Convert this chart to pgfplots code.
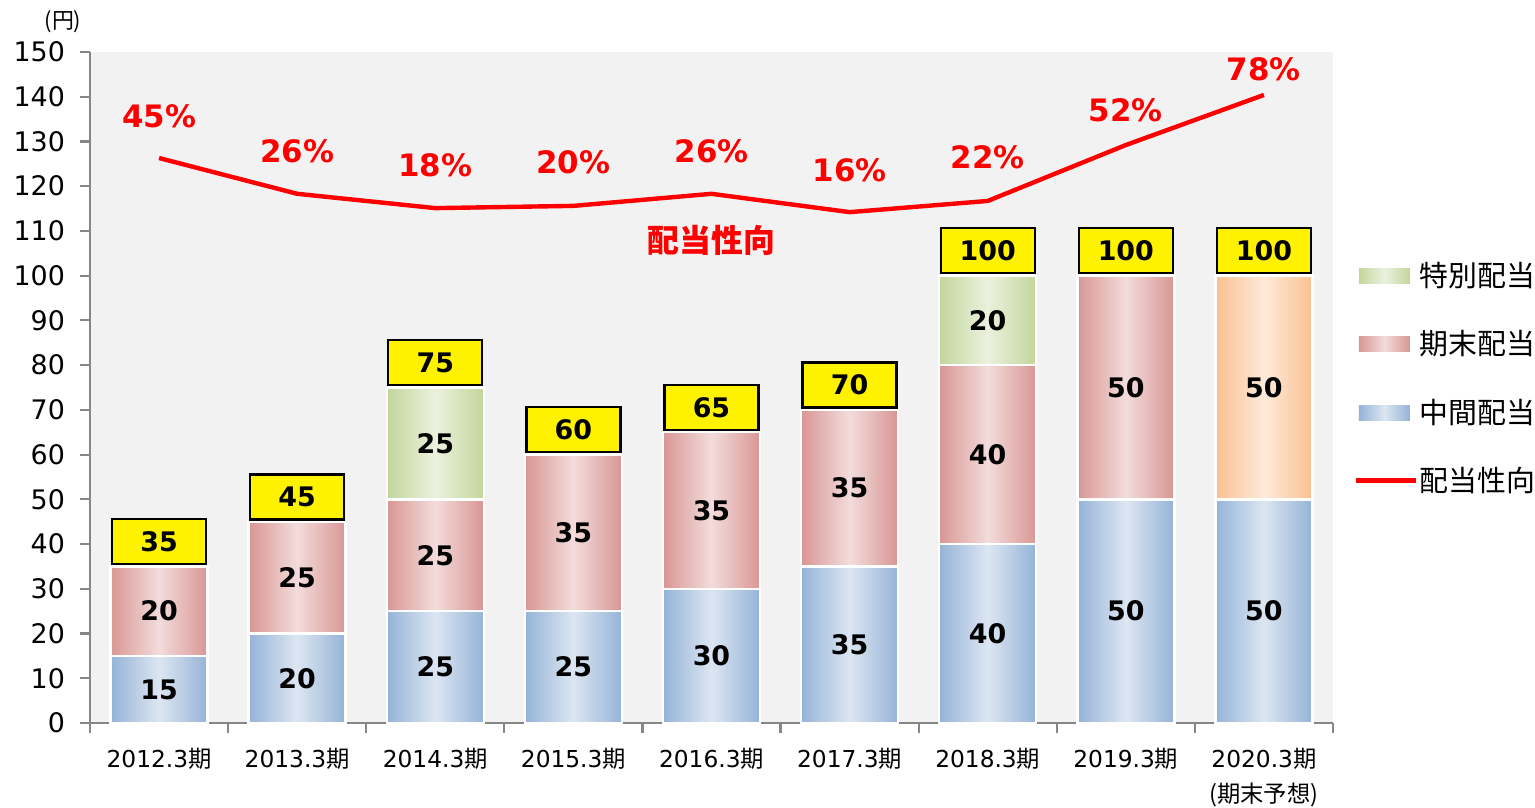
\documentclass[border=0pt]{standalone}
\usepackage{fontspec}
\setmainfont{DejaVu Sans}
\newfontfamily\jp{Noto Sans CJK JP}
\usepackage{pgfplots}
\pgfplotsset{compat=1.18}
\definecolor{blueE}{HTML}{95B3D7}
\definecolor{blueC}{HTML}{DCE6F2}
\definecolor{pinkE}{HTML}{D99694}
\definecolor{pinkC}{HTML}{F2DCDB}
\definecolor{greenE}{HTML}{C3D69B}
\definecolor{greenC}{HTML}{EBF1DE}
\definecolor{orangeE}{HTML}{FAC090}
\definecolor{orangeC}{HTML}{FDEADA}
\definecolor{plotbg}{HTML}{F2F2F2}
\definecolor{axisgray}{HTML}{868686}
\definecolor{lblred}{HTML}{FF0000}
\pgfplotsset{
  gbar/.style={ybar, bar shift=0pt, draw=white, line width=1.2bp, forget plot},
  blueS/.style={gbar, left color=blueE, right color=blueE, middle color=blueC},
  pinkS/.style={gbar, left color=pinkE, right color=pinkE, middle color=pinkC},
  greenS/.style={gbar, left color=greenE, right color=greenE, middle color=greenC},
  orangeS/.style={gbar, left color=orangeE, right color=orangeE, middle color=orangeC},
}
\begin{document}
\begin{tikzpicture}
\useasboundingbox (-45bp,-42.5bp) rectangle (722.5bp,361.5bp);
\begin{axis}[
  at={(0,0)}, anchor=south west,
  scale only axis, width=621.5bp, height=335.5bp,
  xmin=-0.5, xmax=8.5, ymin=0, ymax=150,
  bar width=48.5bp,
  axis background/.style={fill=plotbg},
  axis lines=left, axis line style={-, draw=axisgray, line width=1.3bp},
  every tick/.style={draw=axisgray, line width=1.1bp},
  tick align=outside, major tick length=5bp,
  ytick={0,10,...,150},
  yticklabel style={font=\fontsize{13.5}{15}\selectfont, text=black, xshift=-4bp},
  xtick={-0.5,0.5,1.5,2.5,3.5,4.5,5.5,6.5,7.5,8.5}, xticklabels={},
  extra x ticks={0,1,2,3,4,5,6,7,8},
  extra x tick labels={2012.3{\jp 期},2013.3{\jp 期},2014.3{\jp 期},2015.3{\jp 期},2016.3{\jp 期},2017.3{\jp 期},2018.3{\jp 期},2019.3{\jp 期},{2020.3{\jp 期}\\{\jp (期末予想)}}},
  extra x tick style={major tick length=0pt, xticklabel style={font=\fontsize{11.7}{17.5}\selectfont, align=center, anchor=north, yshift=-9bp, text=black}},
  /pgf/number format/assume math mode=true,
  legend style={at={(1.0161,0.6885)}, anchor=north west, draw=none, fill=none, font=\jp\fontsize{14.5}{16}\selectfont, row sep=19.5bp, inner sep=0pt,
    nodes={inner sep=0.5bp}, column sep=0pt},
  legend cell align=left,
  clip=false,
]
% legend images
\addlegendimage{legend image code/.code={\path[draw=none] (0bp,0bp) -- (30bp,0bp);\shade[draw=none,left color=greenE,right color=greenE,middle color=greenC] (1.5bp,-3.75bp) rectangle (27bp,3.75bp);}}
\addlegendentry{特別配当}
\addlegendimage{legend image code/.code={\path[draw=none] (0bp,0bp) -- (30bp,0bp);\shade[draw=none,left color=pinkE,right color=pinkE,middle color=pinkC] (1.5bp,-3.75bp) rectangle (27bp,3.75bp);}}
\addlegendentry{期末配当}
\addlegendimage{legend image code/.code={\path[draw=none] (0bp,0bp) -- (30bp,0bp);\shade[draw=none,left color=blueE,right color=blueE,middle color=blueC] (1.5bp,-3.75bp) rectangle (27bp,3.75bp);}}
\addlegendentry{中間配当}
\addlegendimage{legend image code/.code={\draw[lblred, line width=2.5bp] (0bp,0bp) -- (30bp,0bp);}}
\addlegendentry{配当性向}

% bars: top of each segment (cumulative), tallest first, one plot per bar so each bar gets its own shading
% special dividend (top of stack)
\addplot[greenS] coordinates {(2,75)};
\addplot[greenS] coordinates {(6,100)};
% year-end forecast 2020
\addplot[orangeS] coordinates {(8,100)};
% year-end dividend (interim + year-end)
\addplot[pinkS] coordinates {(0,35)};
\addplot[pinkS] coordinates {(1,45)};
\addplot[pinkS] coordinates {(2,50)};
\addplot[pinkS] coordinates {(3,60)};
\addplot[pinkS] coordinates {(4,65)};
\addplot[pinkS] coordinates {(5,70)};
\addplot[pinkS] coordinates {(6,80)};
\addplot[pinkS] coordinates {(7,100)};
% interim dividend
\addplot[blueS] coordinates {(0,15)};
\addplot[blueS] coordinates {(1,20)};
\addplot[blueS] coordinates {(2,25)};
\addplot[blueS] coordinates {(3,25)};
\addplot[blueS] coordinates {(4,30)};
\addplot[blueS] coordinates {(5,35)};
\addplot[blueS] coordinates {(6,40)};
\addplot[blueS] coordinates {(7,50)};
\addplot[blueS] coordinates {(8,50)};

% payout ratio line
\addplot[lblred, line width=2.2bp, mark=none, forget plot]
  coordinates {(0,126.3) (1,118.3) (2,115.1) (3,115.6) (4,118.3) (5,114.2) (6,116.7) (7,129.2) (8,140.4)};

% segment labels
\addplot[draw=none, mark=none, forget plot, nodes near coords, point meta=explicit symbolic,
  every node near coord/.append style={anchor=center, text=black, font=\bfseries\fontsize{13.5}{15}\selectfont}]
  table[meta=l, row sep=\\] {
  x y l\\
  0 7.5 15\\ 1 10 20\\ 2 12.5 25\\ 3 12.5 25\\ 4 15 30\\ 5 17.5 35\\ 6 20 40\\ 7 25 50\\ 8 25 50\\
  0 25 20\\ 1 32.5 25\\ 2 37.5 25\\ 3 42.5 35\\ 4 47.5 35\\ 5 52.5 35\\ 6 60 40\\ 7 75 50\\ 8 75 50\\
  2 62.5 25\\ 6 90 20\\
  };

% totals in yellow boxes
\addplot[draw=none, mark=none, forget plot, nodes near coords, point meta=explicit symbolic,
  every node near coord/.append style={anchor=south, fill=yellow, draw=black, line width=1.2bp, text=black,
    minimum width=47bp, minimum height=22.5bp, inner sep=0pt, yshift=0.6bp, font=\bfseries\fontsize{13.5}{15}\selectfont}]
  table[meta=l, row sep=\\] {
  x y l\\
  0 35 35\\ 1 45 45\\ 2 75 75\\ 3 60 60\\ 4 65 65\\ 5 70 70\\ 6 100 100\\ 7 100 100\\ 8 100 100\\
  };

% percentage labels
\addplot[draw=none, mark=none, forget plot, nodes near coords, point meta=explicit symbolic,
  every node near coord/.append style={anchor=center, text=lblred, font=\bfseries\fontsize{15.5}{17}\selectfont}]
  table[meta=l, row sep=\\] {
  x y l\\
  0 135.7 45\%\\ 1 127.7 26\%\\ 2 124.7 18\%\\ 3 125.4 20\%\\ 4 127.7 26\%\\ 5 123.6 16\%\\ 6 126.5 22\%\\ 7 137 52\%\\ 8 146.2 78\%\\
  };

\node[text=lblred, font={\jp\bfseries\fontsize{16}{18}\selectfont}] at (axis cs:4,107.8) {配当性向};
\end{axis}
\node[font={\jp\fontsize{11}{12}\selectfont}] at (-13.5bp,350.5bp) {(円)};
\end{tikzpicture}
\end{document}
